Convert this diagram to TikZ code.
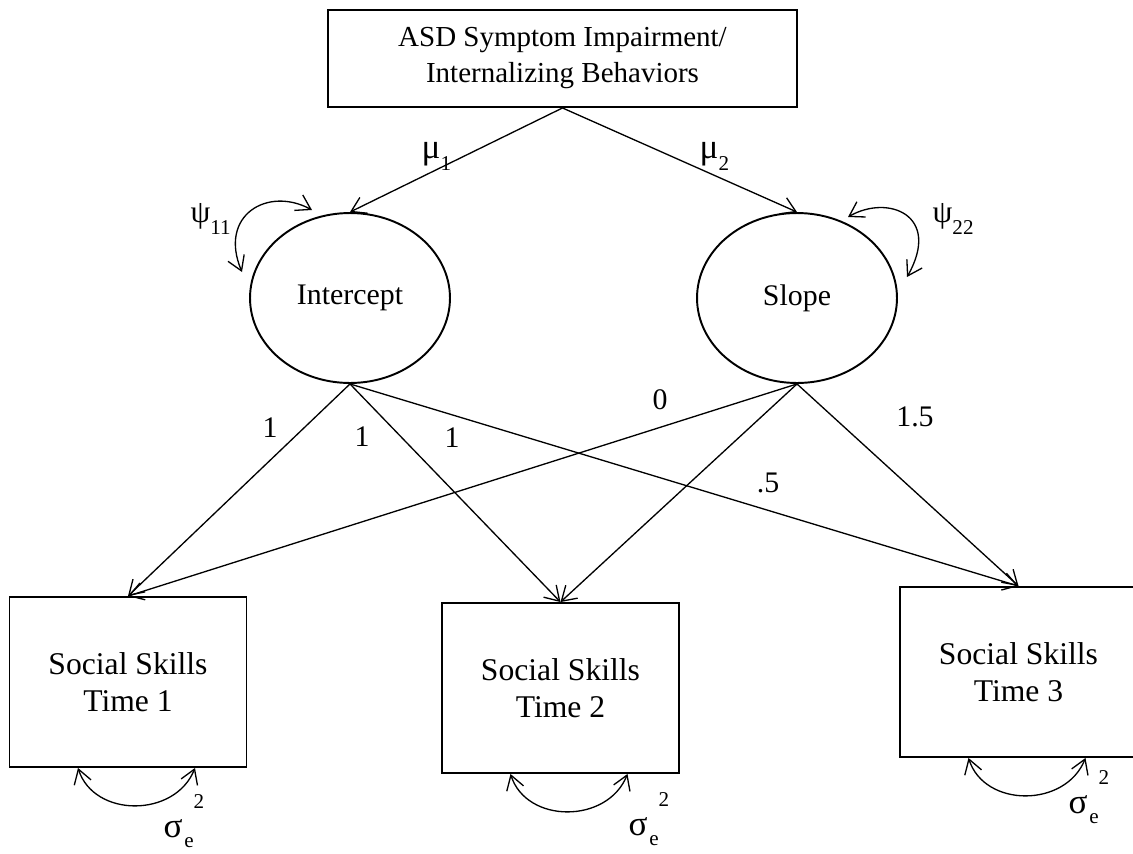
\documentclass[tikz,border=0pt]{standalone}
\usepackage{fontspec}
\setmainfont{Liberation Serif}
\usetikzlibrary{arrows.meta,shapes.geometric}

\newcommand{\lbl}[2]{#1\raisebox{-7pt}{\fontsize{12}{12}\selectfont #2}}
\newcommand{\errvar}{σ\kern1pt\raisebox{-6pt}{\fontsize{12}{12}\selectfont e}\raisebox{16pt}{\fontsize{12}{12}\selectfont 2}}

\begin{document}
\begin{tikzpicture}[x=0.02cm, y=0.02cm, ->, >={Straight Barb[length=8pt,width=10pt]}, line width=0.75pt,
  box/.style={draw, rectangle, line width=1.1pt, inner sep=0pt, minimum width=4.74cm, minimum height=3.4cm, align=center, font=\fontsize{18}{21}\selectfont},
  latent/.style={draw, ellipse, line width=1.1pt, inner sep=0pt, minimum width=4cm, minimum height=3.4cm, font=\fontsize{17}{20}\selectfont},
  num/.style={font=\fontsize{17}{20}\selectfont, inner sep=0pt},
  greek/.style={font=\fontsize{20}{22}\selectfont, inner sep=0pt, anchor=base west}]
	\useasboundingbox (0,0) rectangle (1133,-853);
	\node[box, minimum width=9.38cm, minimum height=1.94cm, font=\fontsize{16.5}{20.5}\selectfont] (asd) at (562.5,-58.5) {ASD Symptom Impairment/\\Internalizing Behaviors};
	\node[latent] (int) at (350,-298) {Intercept};
	\node[latent] (slope) at (797,-298) {Slope};
	\node[box] (b1) at (128,-682) {Social Skills\\Time 1};
	\node[box] (b2) at (560.5,-688) {Social Skills\\Time 2};
	\node[box] (b3) at (1018.5,-672) {Social Skills\\Time 3};
	% growth factor means
	\draw (asd.south) -- (int.north);
	\draw (asd.south) -- (slope.north);
	\node[greek] (m1) at (421,-158) {\lbl{μ}{1}};
	\node[greek] (m2) at (699,-158) {\lbl{μ}{2}};
	% factor variances
	\coordinate (ia) at (312,-210);
	\coordinate (ib) at (242,-272);
	\coordinate (sa) at (848,-217);
	\coordinate (sb) at (907,-277);
	\draw[<->] (ia) .. controls (268,-186) and (218,-215) .. (ib);
	\draw[<->] (sa) .. controls (888,-194) and (942,-215) .. (sb);
	\node[greek, font=\fontsize{18}{20}\selectfont] (p1) at (190,-222) {\lbl{ψ}{11}};
	\node[greek, font=\fontsize{18}{20}\selectfont] (p2) at (932,-222) {\lbl{ψ}{22}};
	% loadings
	\foreach \b in {b1,b2,b3}
		\draw (int.south) -- (\b.north);
	\foreach \b in {b1,b2,b3}
		\draw (slope.south) -- (\b.north);
	\node[num] (l1) at (270,-428) {1};
	\node[num] (l2) at (362,-437) {1};
	\node[num] (l3) at (452,-438) {1};
	\node[num] (l4) at (660,-400) {0};
	\node[num] (l5) at (768,-483) {.5};
	\node[num] (l6) at (915,-417) {1.5};
	% residual variances
	\foreach \b in {b1,b2,b3}
		\draw[<->] ([shift={(-50,0)}]\b.south) .. controls +(16,-50) and +(-20,-50) .. ([shift={(67,0)}]\b.south);
	\node[greek] (s1) at (163,-837) {\errvar};
	\node[greek] (s2) at (628,-835) {\errvar};
	\node[greek] (s3) at (1068,-813) {\errvar};
\end{tikzpicture}
\end{document}
